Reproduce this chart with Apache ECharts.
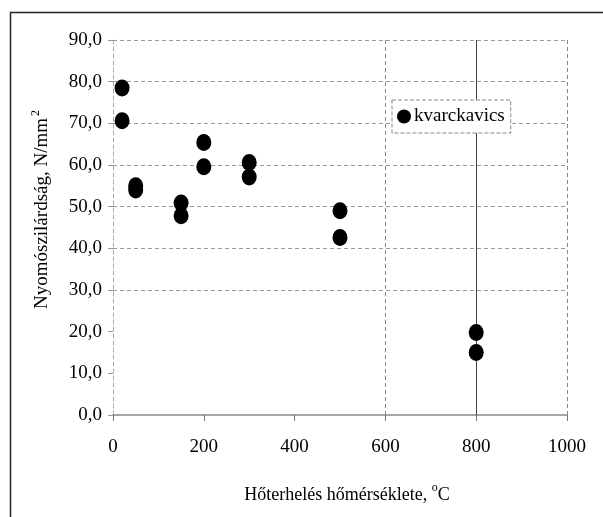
<!DOCTYPE html>
<html>
<head>
<meta charset="utf-8">
<script src="https://cdn.jsdelivr.net/npm/echarts@6/dist/echarts.min.js"></script>
<style>
html,body{margin:0;padding:0;background:#fff;}
#c{width:603px;height:517px;}
</style>
</head>
<body>
<div id="c"></div>
<script>
const seriesName = 'kvarckavics';
const temperatures = [20, 20, 50, 50, 150, 150, 200, 200, 300, 300, 500, 500, 800, 800];
const strengths = [78.5, 70.6, 55.0, 54.0, 50.9, 47.8, 65.4, 59.6, 60.6, 57.1, 49.0, 42.6, 19.8, 15.0];
const xTicks = [0, 200, 400, 600, 800, 1000];
const yTicks = [0, 10, 20, 30, 40, 50, 60, 70, 80, 90];
const yGridValues = [30, 40, 50, 60, 70, 80, 90];
const xGridDashed = [600, 1000];
const xGridSolid = [800];

const points = temperatures.map((t, i) => [t, strengths[i]]);
const FONT = '"Liberation Serif", "DejaVu Serif", serif';

const gridLines = []
  .concat(yGridValues.map(v => ({yAxis: v, lineStyle: {type: [4, 3], color: '#999', width: 1}})))
  .concat(xGridDashed.map(v => ({xAxis: v, lineStyle: {type: [4, 3], color: '#888', width: 1}})))
  .concat(xGridSolid.map(v => ({xAxis: v, lineStyle: {type: 'solid', color: '#444', width: 1}})));

const chart = echarts.init(document.getElementById('c'), null, {renderer: 'canvas'});
chart.setOption({
  animation: false,
  backgroundColor: '#fff',
  graphic: [{
    type: 'rect',
    left: 8, top: 10,
    shape: {x: 0, y: 0, width: 620, height: 540},
    style: {fill: 'none', stroke: '#222', lineWidth: 1.5},
    z: -1, silent: true
  }],
  grid: {left: 113, right: 36, top: 40, bottom: 102, containLabel: false},
  legend: {
    left: 392, top: 100,
    padding: [7, 6, 7, 5],
    itemGap: 0,
    itemWidth: 14, itemHeight: 17,
    borderColor: '#888', borderWidth: 1, borderType: 'dashed',
    backgroundColor: '#fff',
    textStyle: {fontFamily: FONT, fontSize: 19, color: '#000', padding: [0, 0, 0, -2]},
    data: [{name: seriesName, icon: 'circle', itemStyle: {color: '#000', opacity: 1}}]
  },
  xAxis: {
    type: 'value',
    min: xTicks[0], max: xTicks[xTicks.length - 1], interval: 200,
    name: '{n|Hőterhelés hőmérséklete, }{s|o}{n|C}',
    nameLocation: 'middle',
    nameGap: 67,
    nameTextStyle: {
      padding: [0, 0, 0, 14],
      rich: {
        n: {fontFamily: FONT, fontSize: 18, color: '#000', verticalAlign: 'bottom', lineHeight: 22},
        s: {fontFamily: FONT, fontSize: 12, color: '#000', verticalAlign: 'top', lineHeight: 22, padding: [0, 0, 9, 0]}
      }
    },
    axisLine: {show: true, lineStyle: {color: '#888', width: 1.5}},
    axisTick: {show: true, length: 6, inside: false, lineStyle: {color: '#777'}},
    axisLabel: {fontFamily: FONT, fontSize: 19, color: '#000', margin: 23, formatter: v => String(v)},
    splitLine: {show: false}
  },
  yAxis: {
    type: 'value',
    min: yTicks[0], max: yTicks[yTicks.length - 1], interval: 10,
    name: '{n|Nyomószilárdság, N/mm}{s|2}',
    nameLocation: 'middle',
    nameGap: 61,
    nameTextStyle: {
      padding: [0, 0, 0, 36],
      rich: {
        n: {fontFamily: FONT, fontSize: 19, color: '#000', verticalAlign: 'bottom', lineHeight: 22},
        s: {fontFamily: FONT, fontSize: 12, color: '#000', verticalAlign: 'top', lineHeight: 22, padding: [0, 0, 10, 2]}
      }
    },
    axisLine: {show: true, lineStyle: {color: '#aaa', type: [4, 3], width: 1}},
    axisTick: {show: true, length: 5, lineStyle: {color: '#999'}},
    axisLabel: {
      fontFamily: FONT, fontSize: 19, color: '#000', margin: 11,
      formatter: v => v.toFixed(1).replace('.', ',')
    },
    splitLine: {show: false}
  },
  series: [{
    name: seriesName,
    type: 'scatter',
    data: points,
    symbol: 'circle',
    symbolSize: [15, 17],
    itemStyle: {color: '#000', opacity: 1},
    z: 5,
    markLine: {
      silent: true,
      symbol: ['none', 'none'],
      label: {show: false},
      emphasis: {disabled: true},
      data: gridLines,
      z: 1
    }
  }]
});
</script>
</body>
</html>
